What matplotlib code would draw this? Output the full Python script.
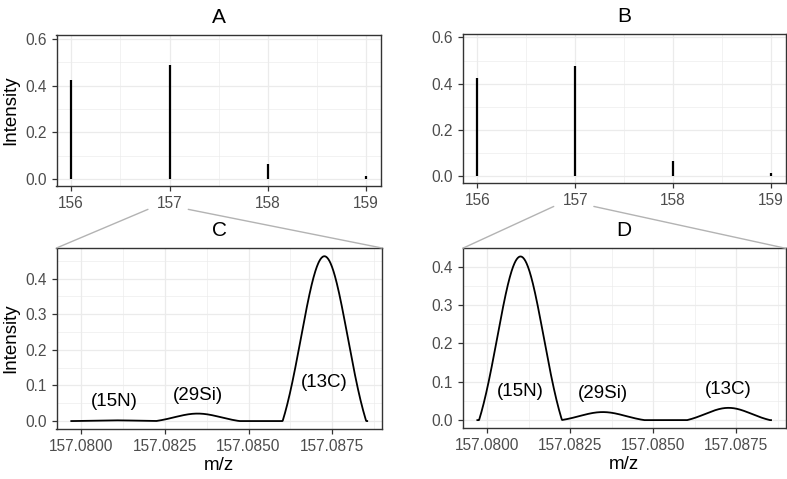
import numpy as np
import matplotlib.pyplot as plt
from matplotlib.patches import ConnectionPatch
from matplotlib.ticker import MultipleLocator

plt.rcParams['font.family'] = ['Liberation Sans', 'DejaVu Sans']

# nominal-mass stick spectra (panels A and B)
nominal_mz = [156, 157, 158, 159]
int_A = [0.424, 0.486, 0.064, 0.014]
int_B = [0.427, 0.476, 0.068, 0.013]

# fine structure of the M+1 peak (panels C and D)
iso_labels = ['(15N)', '(29Si)', '(13C)']
iso_mz = [157.08100, 157.08348, 157.08727]
iso_int_C = [0.002, 0.021, 0.463]
iso_int_D = [0.427, 0.021, 0.032]
label_y_C = [0.054, 0.073, 0.107]
label_y_D = [0.075, 0.070, 0.080]

peak_halfwidth = 0.00125
peak_sigma = 0.0007
mz_lo, mz_hi = 157.0797, 157.08855

W, H = 787, 479
GRID = '#ebebeb'
FRAME = '#333333'
TICKCOL = '#4d4d4d'


def profile(mz, heights):
    # each isotope peak: gaussian cut at +-halfwidth, baseline-shifted to zero
    x = np.linspace(mz_lo, mz_hi, 800)
    y = np.zeros_like(x)
    g0 = np.exp(-0.5 * (peak_halfwidth / peak_sigma) ** 2)
    for m, h in zip(mz, heights):
        inside = np.abs(x - m) <= peak_halfwidth
        g = np.exp(-0.5 * ((x[inside] - m) / peak_sigma) ** 2)
        y[inside] += h * (g - g0) / (1 - g0)
    return x, y


def add_axes(fig, l, t, r, b):
    return fig.add_axes([l / W, 1 - b / H, (r - l) / W, (b - t) / H])


def style(ax):
    ax.set_facecolor('white')
    ax.grid(True, which='major', color=GRID, lw=0.9)
    ax.grid(True, which='minor', color=GRID, lw=0.45)
    ax.set_axisbelow(True)
    for s in ax.spines.values():
        s.set_color(FRAME)
        s.set_linewidth(1.0)
    ax.tick_params(which='major', length=3.5, width=0.9, color=FRAME,
                   labelcolor=TICKCOL, labelsize=11.2, pad=3.5)
    ax.tick_params(which='minor', length=0)


fig = plt.figure(figsize=(W / 100, H / 100), dpi=100)

axA = add_axes(fig, 56.5, 35.3, 381, 186)
axB = add_axes(fig, 462.7, 34, 785.7, 183.3)
axC = add_axes(fig, 56.5, 248, 382, 429.3)
axD = add_axes(fig, 462.7, 248.3, 785.7, 428.3)

for ax, vals, title in [(axA, int_A, 'A'), (axB, int_B, 'B')]:
    style(ax)
    ax.vlines(nominal_mz, 0, vals, color='black', lw=1.6)
    ax.set_xlim(155.85, 159.15)
    ax.set_ylim(-0.03, 0.615)
    ax.xaxis.set_major_locator(MultipleLocator(1))
    ax.xaxis.set_minor_locator(MultipleLocator(0.5))
    ax.yaxis.set_major_locator(MultipleLocator(0.2))
    ax.yaxis.set_minor_locator(MultipleLocator(0.1))
    ax.yaxis.set_major_formatter(lambda v, p: f'{v:.1f}')
    ax.set_title(title, fontsize=15, pad=9)

axA.set_ylabel('Intensity', fontsize=13.5, labelpad=4)

for ax, heights, ly, title in [(axC, iso_int_C, label_y_C, 'C'),
                               (axD, iso_int_D, label_y_D, 'D')]:
    style(ax)
    x, y = profile(iso_mz, heights)
    ax.plot(x, y, color='black', lw=1.3)
    for m, yy, lab in zip(iso_mz, ly, iso_labels):
        ax.text(m, yy, lab, ha='center', va='center', fontsize=13.5)
    pad = 0.05 * (mz_hi - mz_lo)
    ax.set_xlim(mz_lo - pad, mz_hi + pad)
    top = max(heights)
    ax.set_ylim(-0.05 * top, 1.05 * top)
    ax.xaxis.set_major_locator(MultipleLocator(0.0025))
    ax.xaxis.set_minor_locator(MultipleLocator(0.00125))
    ax.xaxis.set_major_formatter(lambda v, p: f'{v:.4f}')
    ax.yaxis.set_major_locator(MultipleLocator(0.1))
    ax.yaxis.set_minor_locator(MultipleLocator(0.05))
    ax.yaxis.set_major_formatter(lambda v, p: f'{v:.1f}')
    ax.set_xlabel('m/z', fontsize=13.5, labelpad=2)
    ax.set_title(title, fontsize=15, pad=9)

axC.set_ylabel('Intensity', fontsize=13.5, labelpad=4)

# zoom lines from the 157 tick down to the detail panels
for top_ax, bot_ax in [(axA, axC), (axB, axD)]:
    for dx, corner in [(-0.22, 0), (0.19, 1)]:
        con = ConnectionPatch(xyA=(157 + dx, -0.155), coordsA=top_ax.get_xaxis_transform(),
                              xyB=(corner, 1), coordsB=bot_ax.transAxes,
                              color='#b3b3b3', lw=1.0)
        fig.add_artist(con)

fig.savefig('out.png', dpi=100, facecolor='white')
